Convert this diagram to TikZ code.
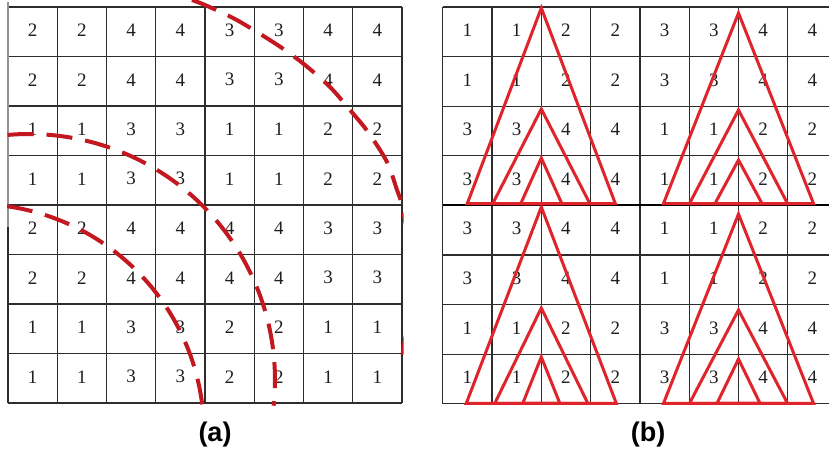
\documentclass[tikz,border=0pt]{standalone}
\usepackage{fontspec}
\setmainfont{Liberation Serif}
\newfontfamily\capfont{Liberation Sans}
\definecolor{arcred}{RGB}{196,24,32}
\definecolor{trired}{RGB}{224,36,44}
\definecolor{gridgray}{RGB}{45,45,45}
\definecolor{digitgray}{RGB}{30,30,30}
\begin{document}
\begin{tikzpicture}[x=1pt,y=-1pt,
  gridline/.style={draw=gridgray, line width=1.2pt},
  digit/.style={font=\fontsize{19}{19}\selectfont, text=digitgray, inner sep=0pt, anchor=center},
  arcdash/.style={draw=arcred, line width=4pt, dash pattern=on 26pt off 13pt},
  tri/.style={draw=trired, line width=3pt, line join=miter},
  caption/.style={font=\capfont\bfseries\fontsize{27}{27}\selectfont, inner sep=0pt}]
\useasboundingbox (0,0) rectangle (829,457);
\fill[white] (0,0) rectangle (829,457);

% ---------- grid (a) ----------
\foreach \i in {0,...,8} {
  \draw[gridline] ({8+\i*49.25},7) -- ({8+\i*49.25},403);
  \draw[gridline] (8,{7+\i*49.5}) -- (402,{7+\i*49.5});
}
\draw[gray!85, line width=2.5pt] (8,2) -- (8,227);
\foreach \rowvals [count=\r] in {{2,2,4,4,3,3,4,4},{2,2,4,4,3,3,4,4},{1,1,3,3,1,1,2,2},{1,1,3,3,1,1,2,2},{2,2,4,4,4,4,3,3},{2,2,4,4,4,4,3,3},{1,1,3,3,2,2,1,1},{1,1,3,3,2,2,1,1}}
  \foreach \v [count=\c] in \rowvals
    \node[digit] (a-\r-\c) at ({8+(\c-0.5)*49.25},{7+(\r-0.5)*49.5-1.5}) {\v};

% ---------- dashed arcs (a) ----------
\begin{scope}
\clip (7,0) rectangle (403.5,405);
\draw[arcdash] plot[smooth] coordinates {(192,0) (205,5) (233,18) (257,32) (282,48) (305,65) (330,87) (350,110) (368,132) (387,162) (397,190) (402,205) (408,240) (411,280) (408,320) (404,345) (402,358)};
\draw[arcdash] plot[domain=-95:6, samples=80] ({29+246*cos(\x)},{380+246*sin(\x)});
\draw[arcdash] plot[domain=-82:-7, samples=80] ({-25+229*cos(\x)},{433+229*sin(\x)});
\end{scope}

% ---------- grid (b) ----------
\begin{scope}
\clip (0,0) rectangle (829,457);
\foreach \i in {0,...,8}
  \draw[gridline] ({442.7+\i*49.3},7) -- ({442.7+\i*49.3},404);
\foreach \j in {0,...,8}
  \draw[gridline] (442.7,{7+\j*49.6}) -- (840,{7+\j*49.6});
\draw[line width=2pt, black] (442.7,205.4) -- (840,205.4);
\foreach \rowvals [count=\r] in {{1,1,2,2,3,3,4,4},{1,1,2,2,3,3,4,4},{3,3,4,4,1,1,2,2},{3,3,4,4,1,1,2,2},{3,3,4,4,1,1,2,2},{3,3,4,4,1,1,2,2},{1,1,2,2,3,3,4,4},{1,1,2,2,3,3,4,4}}
  \foreach \v [count=\c] in \rowvals
    \node[digit] (b-\r-\c) at ({442.7+(\c-0.5)*49.3},{7+(\r-0.5)*49.6-1.5}) {\v};
\end{scope}

% ---------- triangles (b) ----------
\foreach \ax/\ay/\by/\hw in {541.3/8/203.5/74, 541.3/109/203.5/48.5, 541.3/158/203.5/20.5,
  738.5/13/203.5/75, 738.5/110/203.5/49, 738.5/160/203.5/23.5,
  541.3/207/403.3/75, 541.3/308/403.3/46.5, 541.3/357/403.3/18.5,
  738.5/214/403.3/75, 738.5/310/403.3/49, 738.5/359/403.3/21.5}
  \draw[tri] (\ax,\ay) -- ({\ax-\hw},\by) -- ({\ax+\hw},\by) -- cycle;

% ---------- captions ----------
\node[caption] (capa) at (215,435) {(a)};
\node[caption] (capb) at (648,435) {(b)};
\end{tikzpicture}
\end{document}
